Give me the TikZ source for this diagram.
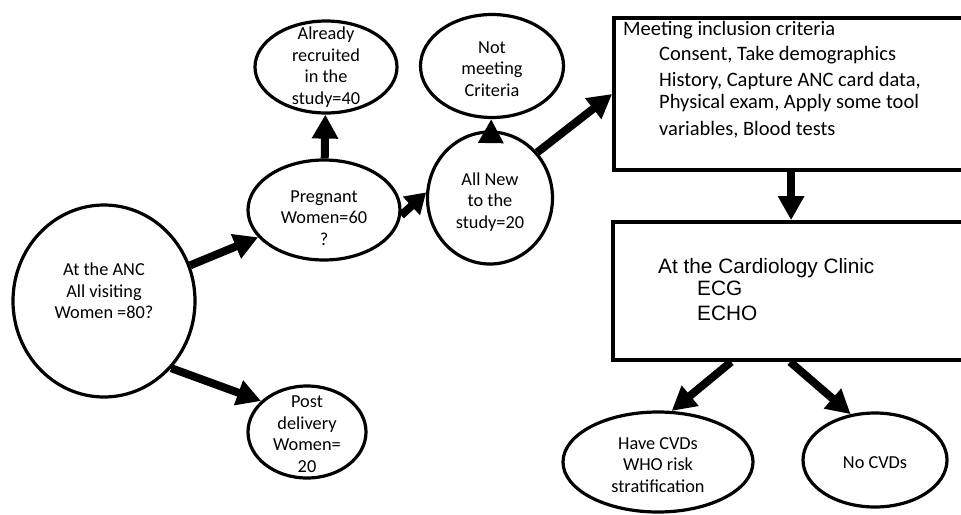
\documentclass[tikz,border=0pt]{standalone}
\usepackage{fontspec}
\setmainfont{Carlito}
\newfontfamily\arialf{Liberation Sans}
\usetikzlibrary{shapes.geometric,arrows.meta}
\begin{document}
\begin{tikzpicture}[x=1pt,y=-1pt,
  ell/.style={draw,ellipse,line width=3.2pt,inner sep=0pt},
  txt/.style={align=center,inner sep=0pt,font=\fontsize{18.3}{21.5}\selectfont},
  box/.style={draw,rectangle,line width=3.8pt,inner sep=0pt},
  boxline/.style={anchor=west,inner sep=0pt,text height=1.6ex,text depth=.3ex,font=\fontsize{20.5}{24}\selectfont},
  cardline/.style={anchor=west,inner sep=0pt,text height=1.6ex,text depth=.3ex,font=\arialf\fontsize{20.8}{24}\selectfont},
  arr/.style={line width=8pt,-{Triangle[length=24pt,width=25pt]}}]
\clip (0,0) rectangle (961,514);
\fill[white] (0,0) rectangle (961,514);
% ellipses
\node[ell,minimum width=182pt,minimum height=192pt] (anc) at (104,301) {};
\node[ell,minimum width=152pt,minimum height=100pt] (preg) at (324,210) {};
\node[ell,minimum width=142pt,minimum height=92pt] (already) at (326,67) {};
\node[ell,minimum width=143pt,minimum height=103pt] (notmeet) at (492,66) {};
\node[ell,minimum width=125pt,minimum height=132pt] (allnew) at (490,198) {};
\node[ell,minimum width=118pt,minimum height=92pt] (post) at (307,432) {};
\node[ell,minimum width=190pt,minimum height=100pt] (cvd) at (658,462) {};
\node[ell,minimum width=144pt,minimum height=94pt] (nocvd) at (875,460) {};
% ellipse texts
\node[txt] (ancT) at (104,291) {At the ANC\\All visiting\\Women =80?};
\node[txt] (pregT) at (324,218) {Pregnant\\Women=60\\?};
\node[txt] (alreadyT) at (326,67) {Already\\recruited\\in the\\study=40};
\node[txt] (notmeetT) at (492,69) {Not\\meeting\\Criteria};
\node[txt] (allnewT) at (490,202) {All New\\to the\\study=20};
\node[txt] (postT) at (307,434) {Post\\delivery\\Women=\\20};
\node[txt] (cvdT) at (658,465) {Have CVDs\\WHO risk\\stratification};
\node[txt] (nocvdT) at (875,463) {No CVDs};
% boxes
\node[box,minimum width=370pt,minimum height=152pt] (box1) at (799,94) {};
\node[box,minimum width=371pt,minimum height=138pt] (box2) at (798.5,291) {};
\node[boxline] (b1a) at (623,32) {Meeting inclusion criteria};
\node[boxline] (b1b) at (659,57) {Consent, Take demographics};
\node[boxline] (b1c) at (659,83) {History, Capture ANC card data,};
\node[boxline] (b1d) at (659,105) {Physical exam, Apply some tool};
\node[boxline] (b1e) at (659,132) {variables, Blood tests};
\node[cardline] (b2a) at (658,270) {At the Cardiology Clinic};
\node[cardline] (b2b) at (697,292) {ECG};
\node[cardline] (b2c) at (697,317) {ECHO};
% arrows
\draw[arr] (anc) -- (preg);
\draw[arr] (anc.-45) -- (post.146);
\draw[arr] (preg) -- (already);
\draw[arr,-{Triangle[length=20pt,width=24pt]}] (preg.-4) -- (allnew.175);
\draw[arr,-{Triangle[length=24pt,width=24pt]}] (allnew) -- (notmeet);
\draw[arr] (allnew.44) -- (box1.west);
\draw[arr] ([xshift=179pt]box1.south west) -- ([xshift=180pt]box2.north west);
\draw[arr] ([xshift=120pt]box2.south west) -- (cvd.75);
\draw[arr] ([xshift=179pt]box2.south west) -- (nocvd.118);
\end{tikzpicture}
\end{document}
